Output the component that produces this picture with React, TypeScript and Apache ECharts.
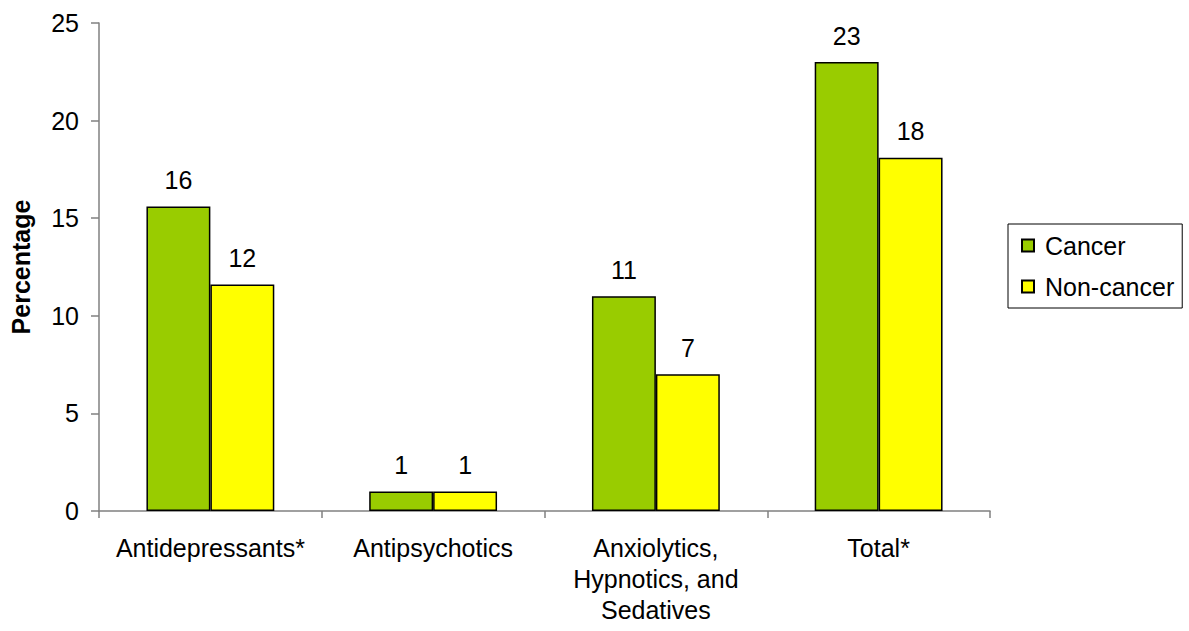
import React, { useEffect, useRef } from "react";
import * as echarts from "echarts";

const categories = [
  "Antidepressants*",
  "Antipsychotics",
  "Anxiolytics,\nHypnotics, and\nSedatives",
  "Total*",
];
const cancerValues = [15.6, 1.0, 11.0, 23.0];
const nonCancerValues = [11.6, 1.0, 7.0, 18.1];
const seriesNames = ["Cancer", "Non-cancer"];
const yTicks = { min: 0, max: 25, interval: 5 };

const FONT = "'Liberation Sans', Arial, Helvetica, sans-serif";

export default function App() {
  const ref = useRef<HTMLDivElement>(null);

  useEffect(() => {
    if (!ref.current) return;
    const chart = echarts.init(ref.current, undefined, { renderer: "svg" });
    const label = {
      show: true,
      position: "top" as const,
      distance: 14,
      color: "#000",
      fontSize: 25,
      fontFamily: FONT,
      formatter: (p: any) => String(Math.round(p.value)),
    };
    chart.setOption({
      animation: false,
      backgroundColor: "#fff",
      textStyle: { fontFamily: FONT },
      grid: { left: 98, top: 23, right: 199, bottom: 120 },
      legend: {
        orient: "vertical",
        left: 1008,
        top: 224,
        padding: [9, 8, 9, 13],
        itemGap: 16,
        itemWidth: 12,
        itemHeight: 12,
        borderColor: "#000",
        borderWidth: 1,
        icon: "rect",
        data: seriesNames,
        textStyle: {
          fontSize: 25,
          lineHeight: 25,
          color: "#000",
          fontFamily: FONT,
          padding: [0, 0, 0, 6],
        },
      },
      xAxis: {
        type: "category",
        data: categories,
        axisLine: { lineStyle: { color: "#808080", width: 1.5 } },
        axisTick: { show: true, length: 7, lineStyle: { color: "#808080", width: 1.5 } },
        axisLabel: {
          color: "#000",
          fontSize: 25,
          lineHeight: 31,
          margin: 21,
          fontFamily: FONT,
          interval: 0,
        },
      },
      yAxis: {
        type: "value",
        min: yTicks.min,
        max: yTicks.max,
        interval: yTicks.interval,
        name: "Percentage",
        nameLocation: "middle",
        nameGap: 66,
        nameTextStyle: { fontSize: 25, fontWeight: "bold", color: "#000", fontFamily: FONT },
        axisLine: { show: true, lineStyle: { color: "#808080", width: 1.5 } },
        axisTick: { show: true, length: 8, lineStyle: { color: "#808080", width: 1.5 } },
        axisLabel: { color: "#000", fontSize: 25, margin: 20, fontFamily: FONT },
        splitLine: { show: false },
      },
      series: [
        {
          name: seriesNames[0],
          type: "bar",
          data: cancerValues,
          barGap: "0%",
          barCategoryGap: "42.6%",
          itemStyle: { color: "#99CC00", borderColor: "#000", borderWidth: 1.5 },
          label,
        },
        {
          name: seriesNames[1],
          type: "bar",
          data: nonCancerValues,
          itemStyle: { color: "#FFFF00", borderColor: "#000", borderWidth: 1.5 },
          label,
        },
      ],
    });
    return () => chart.dispose();
  }, []);

  return (
    <div
      ref={ref}
      style={{ position: "absolute", left: 0, top: 0, width: 1189, height: 631 }}
    />
  );
}
